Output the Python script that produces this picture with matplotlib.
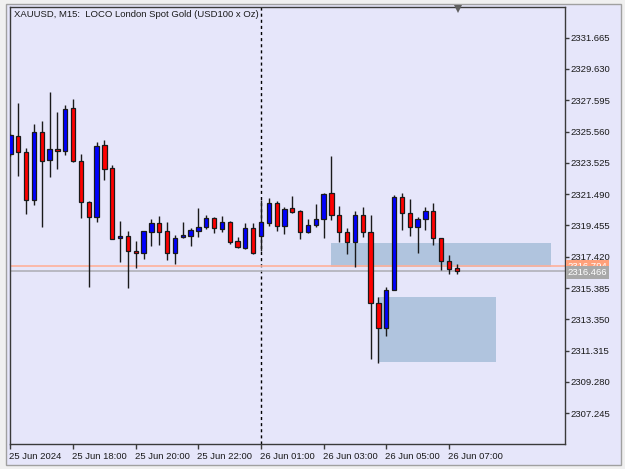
import matplotlib
matplotlib.use("Agg")
import matplotlib.pyplot as plt
import matplotlib.transforms as mtransforms
from matplotlib.patches import Rectangle

# ---------------- data ----------------
opens = [2324.08, 2325.29, 2324.21, 2321.09, 2325.51, 2323.71, 2324.43, 2324.30,
         2327.11, 2323.65, 2321.00, 2320.03, 2324.69, 2323.17, 2318.62, 2318.77,
         2317.82, 2317.67, 2319.05, 2319.60, 2319.08, 2317.67, 2318.69, 2318.79,
         2319.12, 2319.38, 2319.92, 2319.25, 2319.70, 2318.47, 2317.97, 2319.27,
         2318.79, 2319.64, 2320.94, 2319.44, 2320.61, 2320.40, 2319.01, 2319.47,
         2319.90, 2321.55, 2320.16, 2319.03, 2318.36, 2320.16, 2319.01, 2314.43,
         2312.77, 2315.26, 2321.33, 2320.29, 2319.38, 2319.90, 2320.42, 2318.62,
         2317.17, 2316.67]
highs = [2325.40, 2327.40, 2324.51, 2326.03, 2326.25, 2328.15, 2326.85, 2327.29,
         2327.68, 2324.08, 2321.05, 2324.86, 2325.01, 2323.39, 2319.75, 2319.10,
         2318.47, 2319.10, 2319.86, 2320.07, 2319.70, 2318.84, 2319.66, 2319.27,
         2320.57, 2320.14, 2319.99, 2320.07, 2319.75, 2318.73, 2319.64, 2319.64,
         2321.11, 2321.26, 2321.07, 2320.68, 2321.39, 2320.46, 2319.86, 2320.83,
         2321.59, 2323.97, 2320.74, 2319.27, 2320.42, 2320.68, 2320.16, 2314.82,
         2315.48, 2321.42, 2321.59, 2321.18, 2319.99, 2320.64, 2320.94, 2318.65,
         2317.54, 2316.93]
lows = [2324.00, 2322.69, 2320.18, 2320.79, 2319.38, 2322.63, 2323.13, 2324.04,
        2323.60, 2319.96, 2315.48, 2319.70, 2322.41, 2318.55, 2317.10, 2315.41,
        2316.67, 2317.26, 2318.12, 2318.19, 2317.21, 2316.95, 2318.62, 2318.12,
        2318.69, 2319.21, 2318.99, 2319.05, 2318.25, 2317.97, 2317.95, 2317.62,
        2317.82, 2319.42, 2319.12, 2318.90, 2320.25, 2318.58, 2318.95, 2319.38,
        2318.66, 2319.81, 2318.40, 2317.60, 2316.78, 2318.69, 2310.75, 2310.49,
        2312.27, 2315.24, 2319.16, 2318.77, 2317.65, 2319.16, 2318.19, 2316.56,
        2316.30, 2316.30]
closes = [2325.34, 2324.21, 2321.09, 2325.51, 2323.65, 2324.43, 2324.30, 2327.03,
          2323.65, 2320.96, 2320.03, 2324.62, 2323.13, 2318.58, 2318.77, 2317.80,
          2317.67, 2319.08, 2319.60, 2319.05, 2317.67, 2318.62, 2318.84, 2319.16,
          2319.34, 2319.92, 2319.27, 2319.70, 2318.40, 2318.04, 2319.27, 2317.65,
          2319.68, 2320.94, 2319.44, 2320.55, 2320.35, 2319.01, 2319.47, 2319.90,
          2321.50, 2320.14, 2319.05, 2318.36, 2320.16, 2319.01, 2314.43, 2312.77,
          2315.26, 2321.33, 2320.29, 2319.38, 2319.90, 2320.42, 2318.62, 2317.17,
          2316.65, 2316.466]

time_tick_bars = [0, 8, 16, 24, 32, 40, 48, 56]
time_tick_labels = ["25 Jun 2024", "25 Jun 18:00", "25 Jun 20:00", "25 Jun 22:00",
                    "26 Jun 01:00", "26 Jun 03:00", "26 Jun 05:00", "26 Jun 07:00"]
price_ticks = [2307.245, 2309.280, 2311.315, 2313.350, 2315.385, 2317.420, 2319.455,
               2321.490, 2323.525, 2325.560, 2327.595, 2329.630, 2331.665]
price_tick_labels = ["2307.245", "2309.280", "2311.315", "2313.350", "2315.385",
                     "2317.420", "2319.455", "2321.490", "2323.525", "2325.560",
                     "2327.595", "2329.630", "2331.665"]

# zones: (start bar, end bar, low price, high price)
zones = [(41, 69, 2316.74, 2318.34), (47, 62, 2310.60, 2314.82)]
separator_bar = 32
bid_price = 2316.466
ask_price = 2316.80
title = "XAUUSD, M15:  LOCO London Spot Gold (USD100 x Oz)"

# ---------------- styling ----------------
BG = "#E6E6FA"
W, H = 625, 469
fig = plt.figure(figsize=(W / 100, H / 100), dpi=100, facecolor="#F0F0F0")

# frame of the chart window
fig.patches.append(Rectangle((6 / W, 4 / H), (621 - 6) / W, (465 - 4) / H,
                             transform=fig.transFigure, facecolor=BG,
                             edgecolor="#A0A0A0", linewidth=1.0, zorder=-10))

ax = fig.add_axes([10.4 / W, 1 - 444.3 / H, (565 - 10.4) / W, (444.3 - 7) / H])
ax.set_zorder(1)
ax.set_facecolor(BG)
ax.set_xlim(-0.01, 70.83)
ax.set_ylim(2305.228, 2333.661)

font = "Liberation Sans"
fs = 6.8

# zones
for (b0, b1, lo, hi) in zones:
    ax.add_patch(Rectangle((b0, lo), b1 - b0, hi - lo, facecolor="#B0C4DE",
                           edgecolor="none", zorder=1))

# separator
ax.axvline(separator_bar, color="black", linestyle=(0, (2.2, 2.2)), linewidth=1.0, zorder=2)

# bid / ask lines
ax.axhline(ask_price, color="#FFB09A", linewidth=1.2, zorder=2)
ax.axhline(bid_price, color="#B0B0B8", linewidth=1.2, zorder=2)

# candles
xs = list(range(len(opens)))
up_color = "#0000FF"
dn_color = "#FF0000"
ax.vlines(xs, lows, highs, color="#1a1a1a", linewidth=1.0, zorder=3)
bottoms = [min(o, c) for o, c in zip(opens, closes)]
heights = [max(abs(c - o), 0.06) for o, c in zip(opens, closes)]
colors = [up_color if c >= o else dn_color for o, c in zip(opens, closes)]
ax.bar(xs, heights, bottom=bottoms, width=0.55, color=colors, edgecolor="#1a1a1a",
       linewidth=0.9, zorder=4)

# axes frame
for side in ["left", "right", "top", "bottom"]:
    ax.spines[side].set_color("#3a3a3a")
    ax.spines[side].set_linewidth(1.0)

ax.yaxis.tick_right()
ax.set_yticks(price_ticks)
ax.set_yticklabels(price_tick_labels, fontsize=fs, family=font, color="#1a1a1a")
ax.tick_params(axis="y", direction="out", length=3, width=1, color="#3a3a3a", pad=1)

ax.set_xticks(time_tick_bars)
ax.set_xticklabels(time_tick_labels, fontsize=fs, family=font, color="#1a1a1a", ha="left")
ax.tick_params(axis="x", direction="out", length=3.5, width=1, color="#3a3a3a", pad=2)
for lbl in ax.get_xticklabels():
    lbl.set_transform(lbl.get_transform() + mtransforms.ScaledTranslation(-1 / 100, 0, fig.dpi_scale_trans))

# title
ax.text(3.5 / (565 - 10.4), 1 - 8 / 437.3, title, transform=ax.transAxes,
        fontsize=fs, family=font, color="#1a1a1a", ha="left", va="center")

# chart shift marker
trans = mtransforms.blended_transform_factory(ax.transData, ax.transAxes)
ax.plot([57.1], [1 - 2.2 / 437.3], marker="v", markersize=5.5, color="#606060",
        transform=trans, clip_on=False, zorder=6, markeredgewidth=0)

# price labels on the scale
ytrans = mtransforms.blended_transform_factory(ax.transAxes, ax.transData)
ax.text(1.0 + 2.5 / 554.6, ask_price + 0.02, "2316.794", transform=ytrans, fontsize=fs,
        family=font, color="white", ha="left", va="center", clip_on=False, zorder=7,
        bbox=dict(boxstyle="square,pad=0.15", facecolor="#FFA07A", edgecolor="none"))
ax.text(1.0 + 2.5 / 554.6, bid_price - 0.05, "2316.466", transform=ytrans, fontsize=fs,
        family=font, color="white", ha="left", va="center", clip_on=False, zorder=8,
        bbox=dict(boxstyle="square,pad=0.2", facecolor="#A8A8A8", edgecolor="none"))

fig.savefig("out.png", dpi=100, facecolor=fig.get_facecolor())
